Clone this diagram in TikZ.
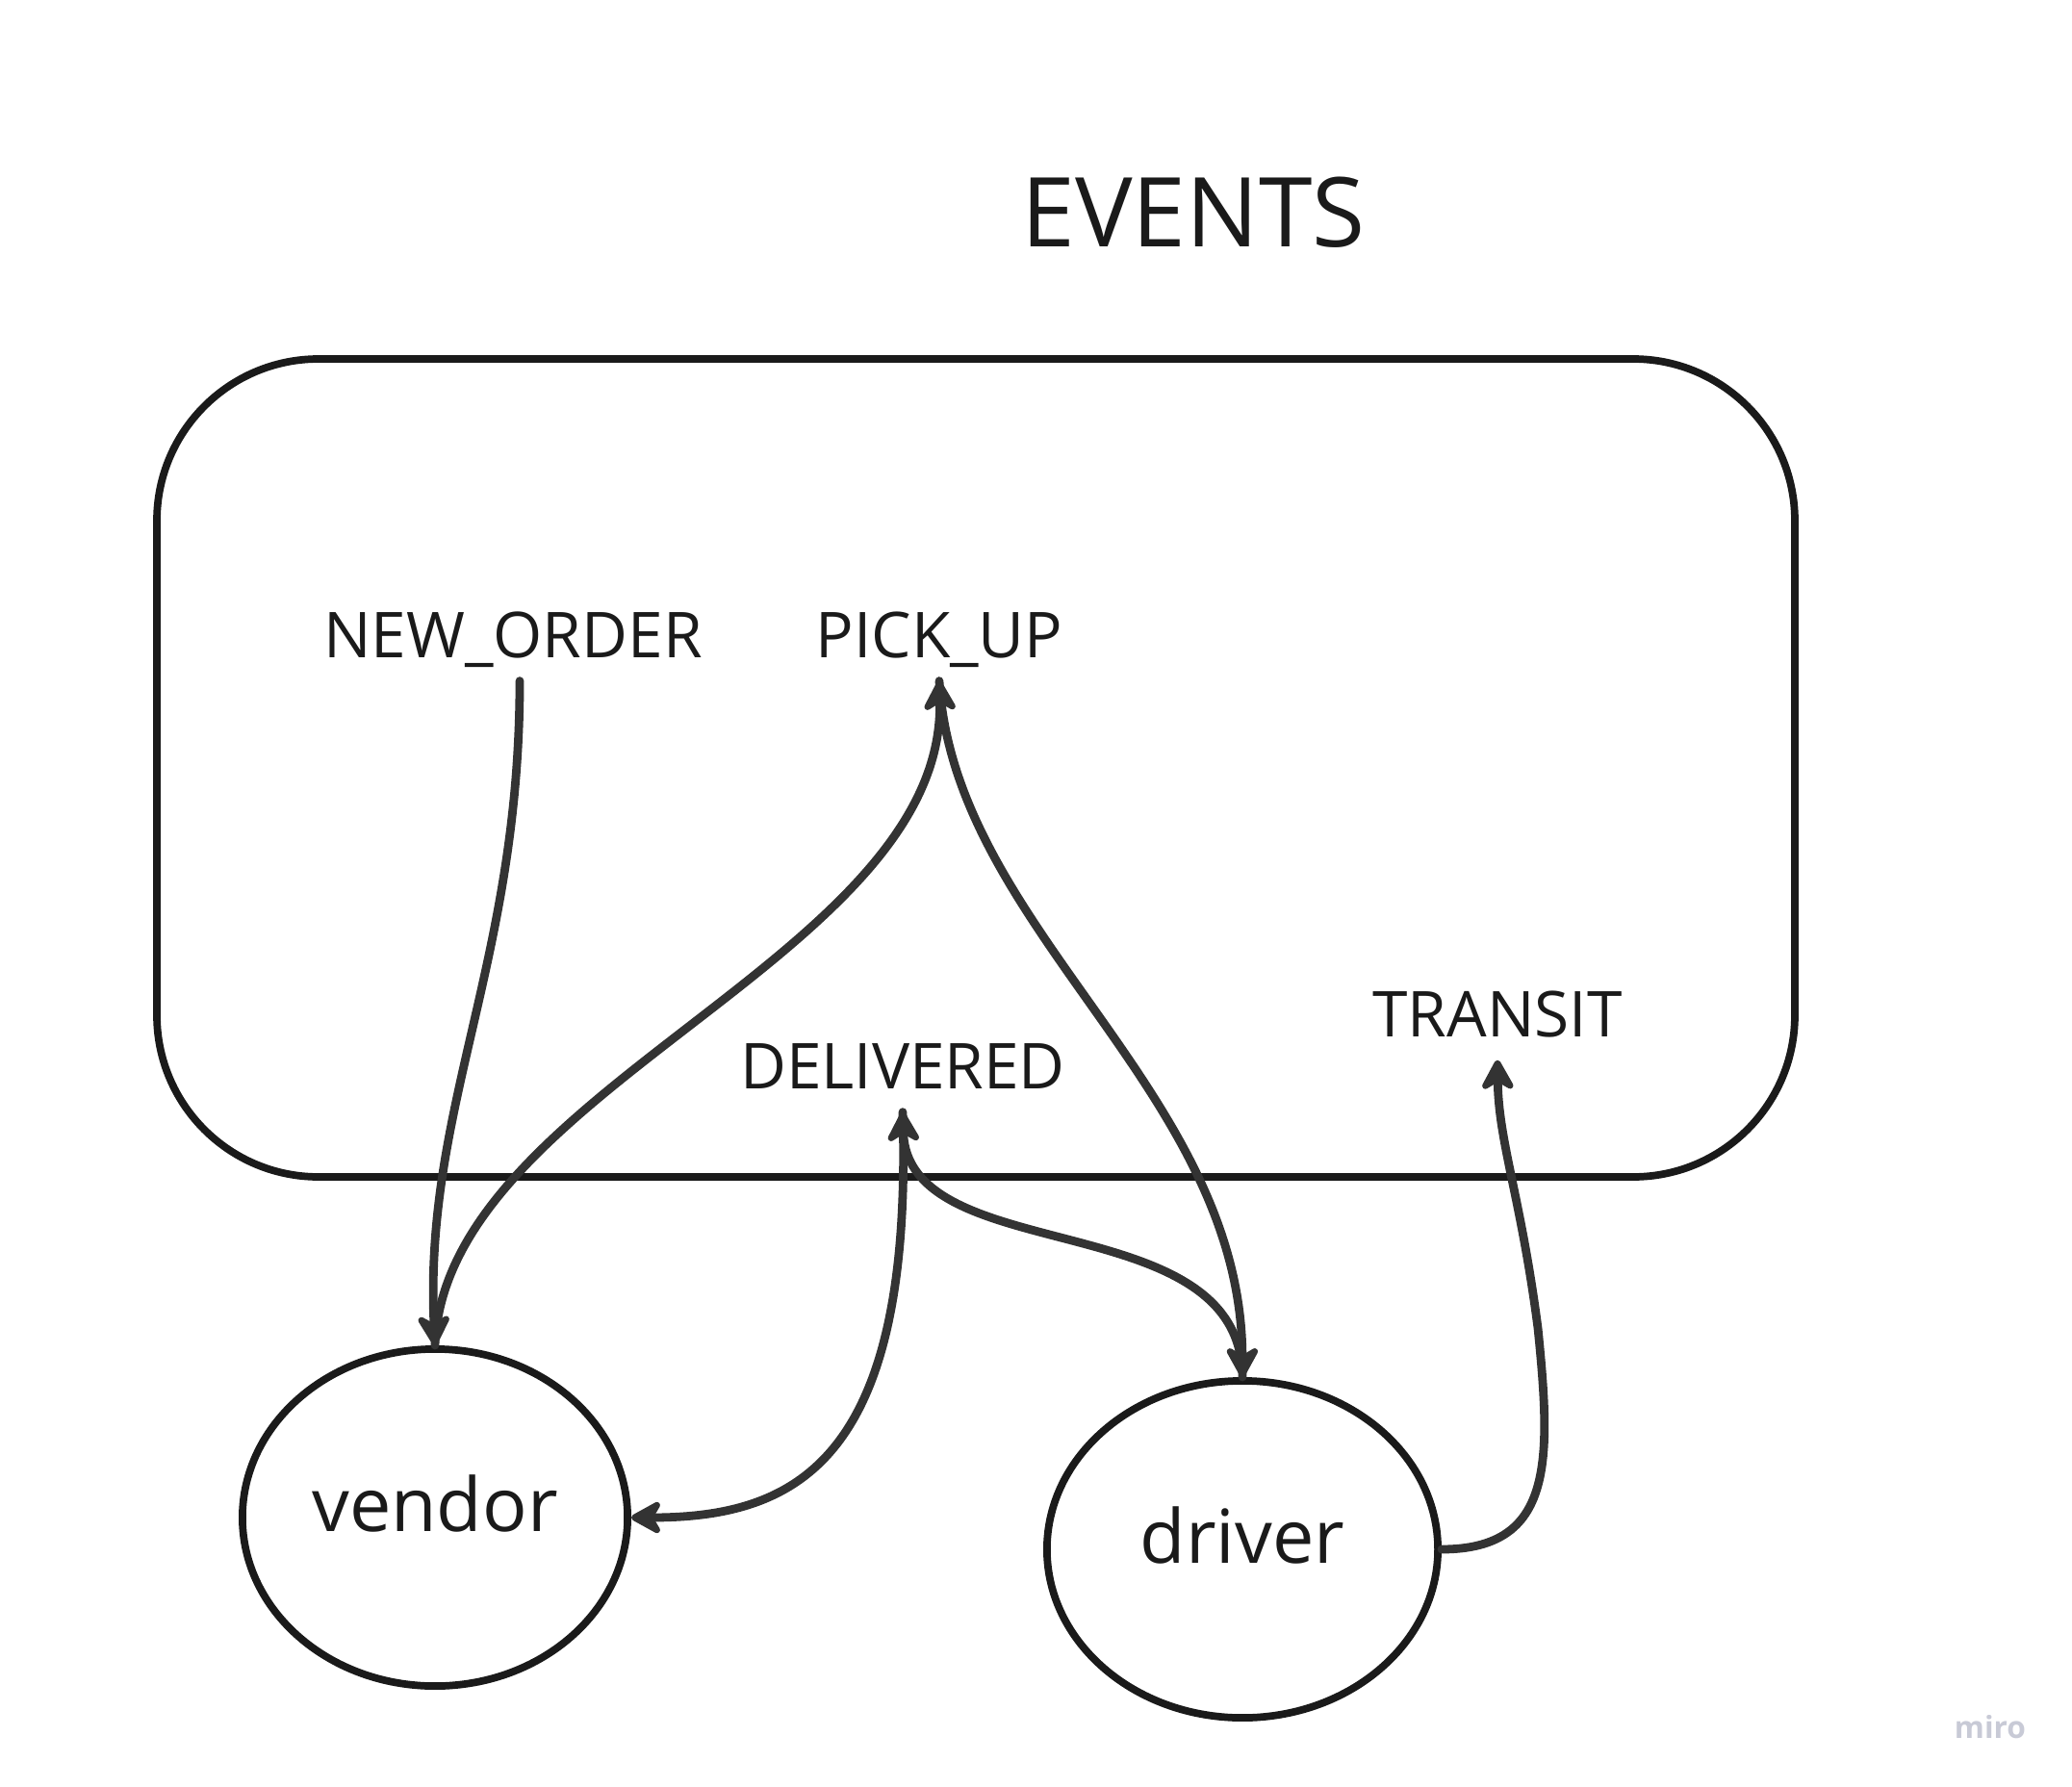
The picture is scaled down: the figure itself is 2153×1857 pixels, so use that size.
\documentclass[tikz,border=0pt]{standalone}
\usepackage{fontspec}
\setmainfont{Open Sans}
\usetikzlibrary{shapes.geometric,arrows.meta}
\definecolor{ink}{HTML}{1A1A1A}
\definecolor{wire}{HTML}{333333}
\definecolor{brand}{HTML}{C8CAD6}

\begin{document}
\begin{tikzpicture}[x=0.01cm,y=-0.01cm,
  actor/.style={draw=ink,line width=2.2pt,ellipse,minimum height=3.5cm,inner sep=0pt,
    text=ink,font=\fontsize{22}{26}\selectfont,text height=17pt,text depth=8.5pt},
  event/.style={text=ink,font=\fontsize{18.7}{22}\selectfont,anchor=base,
    text depth=0pt,inner xsep=0pt,inner ysep=7pt,outer sep=0pt},
  link/.style={wire,line width=2.5pt,line cap=round,
    -{Stealth[length=11pt,width=12pt,inset=3.5pt,round]}}]
  \useasboundingbox (0,0) rectangle (2153,1857);
  \draw[ink,line width=2.2pt,rounded corners=1.68cm] (163,373) rectangle (1865,1223);

  \node[text=ink,font=\fontsize{28.5}{34}\selectfont] (title) at (1240,221) {EVENTS};
  \node[event] (neworder) at (533,683) {NEW\_ORDER};
  \node[event] (pickup) at (976,683) {PICK\_UP};
  \node[event] (delivered) at (938,1131) {DELIVERED};
  \node[event] (transit) at (1556,1077) {TRANSIT};
  \node[actor,minimum width=4cm] (vendor) at (452,1577) {vendor};
  \node[actor,minimum width=4.06cm] (driver) at (1291,1610) {driver};
  \node[text=brand,font=\fontsize{9}{11}\selectfont\bfseries,anchor=base] (brand) at (2068,1806) {miro};

  \draw[link] ([xshift=2pt]neworder.south) .. controls (540,1000) and (440,1150) .. (vendor.north);
  \draw[link] (vendor.north) .. controls (462,1132) and (983,994) .. (pickup.south);
  \draw[link] (pickup.south) .. controls (991,966) and (1290,1132) .. (driver.north);
  \draw[link] (delivered.south) .. controls (949,1518) and (828,1577) .. (vendor.east);
  \draw[link] (driver.north) .. controls (1290,1250) and (943,1320) .. (delivered.south);
  \draw[link] (driver.east) .. controls (1615,1610) and (1612,1518) .. (1598,1380)
    .. controls (1580,1242) and (1557,1187) .. (transit.south);
\end{tikzpicture}
\end{document}
